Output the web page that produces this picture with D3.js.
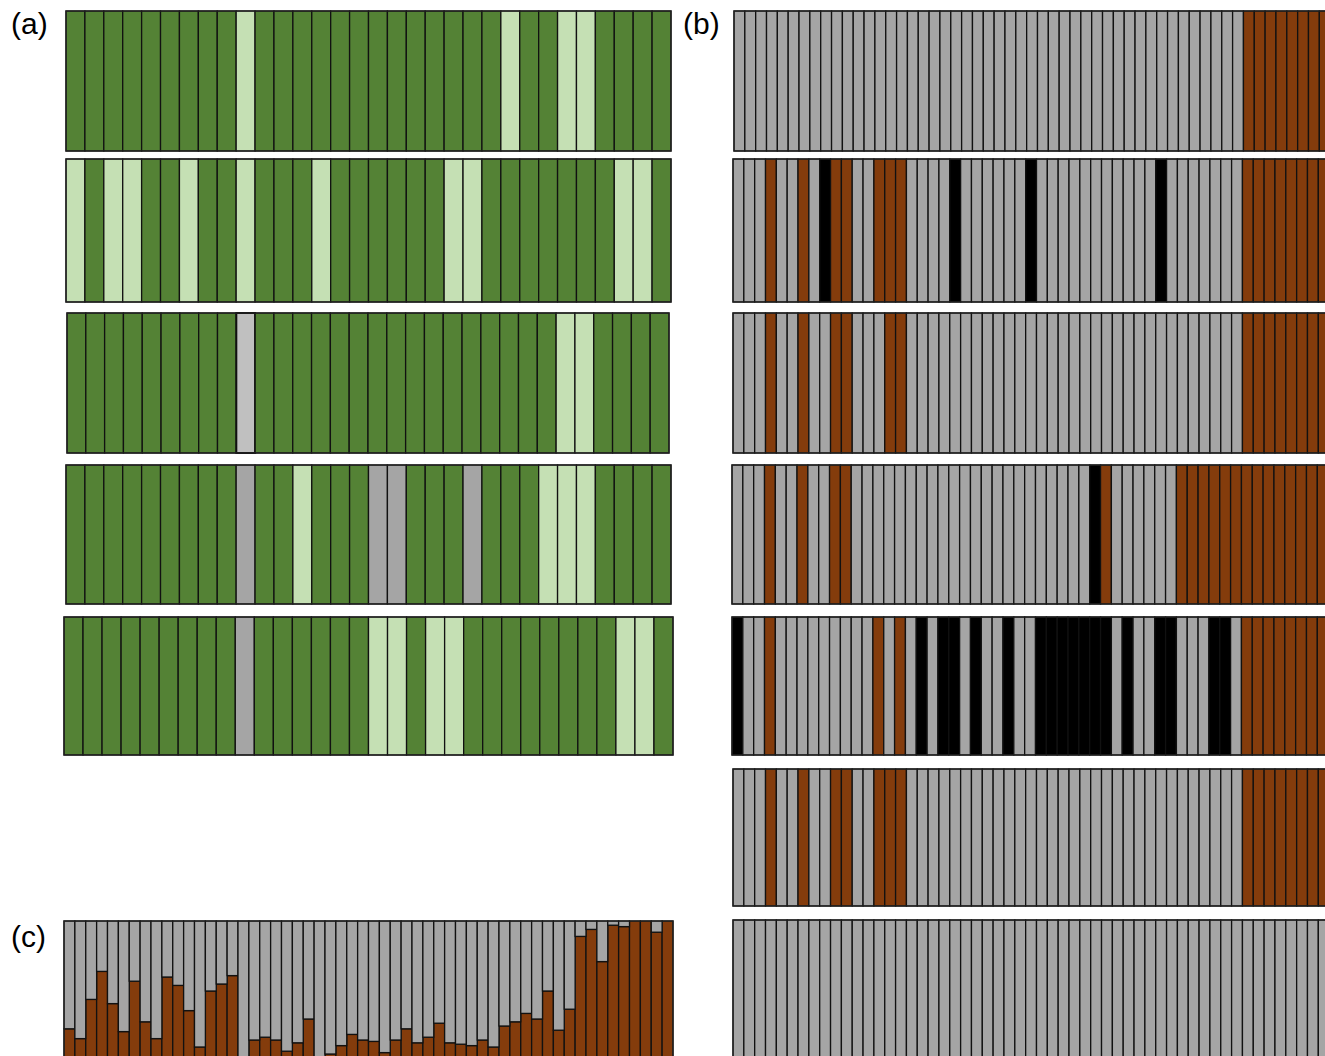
<!DOCTYPE html>
<html>
<head>
<meta charset="utf-8">
<script src="https://cdn.jsdelivr.net/npm/d3@7"></script>
<style>
  html, body { margin: 0; padding: 0; background: #fff; overflow: hidden; }
  .lbl { font-family: "Liberation Sans", Arial, sans-serif; font-size: 30px; fill: #000; }
</style>
</head>
<body>
<div id="chart"></div>
<script>
////////////////////////////////////////////////////////////////////
////////////////////////////  Data  ////////////////////////////////

// (a) 32 individuals, G = dark green, L = light green, S = grey, P = pale grey
const aRows = [
  "GGGGGGGGGLGGGGGGGGGGGGGLGGLLGGGG",
  "LGLLGGLGGLGGGLGGGGGGLLGGGGGGGLLG",
  "GGGGGGGGGPGGGGGGGGGGGGGGGGLLGGGG",
  "GGGGGGGGGSGGLGGGSSGGGSGGGLLLGGGG",
  "GGGGGGGGGSGGGGGGLLGLLGGGGGGGGLLG"
];

// (b) 56 individuals, A = grey, B = brown, K = black (groups of 8)
const bRows = [
  "AAAAAAAA AAAAAAAA AAAAAAAA AAAAAAAA AAAAAAAA AAAAAAAB BBBBBBBB",
  "AAABAABA KBBAABBB AAAAKAAA AAAKAAAA AAAAAAAK AAAAAAAB BBBBBBBB",
  "AAABAABA ABBAAABB AAAAAAAA AAAAAAAA AAAAAAAA AAAAAAAB BBBBBBBB",
  "AAABAABA ABBAAAAA AAAAAAAA AAAAAAAA AKBAAAAA ABBBBBBB BBBBBBBB",
  "KAABAAAA AAAAABAB AKAKKAKA AKAAKKKK KKKAKAAK KAAAKKAB BBBBBBBB",
  "AAABAABA ABBAABBB AAAAAAAA AAAAAAAA AAAAAAAA AAAAAAAB BBBBBBBB",
  "AAAAAAAA AAAAAAAA AAAAAAAA AAAAAAAA AAAAAAAA AAAAAAAA AAAAAAAA"
];

// (c) brown share per individual (grey = rest)
const cBrown = [
  0.23, 0.16, 0.44, 0.64, 0.41, 0.21, 0.57, 0.28, 0.16, 0.60,
  0.54, 0.36, 0.10, 0.50, 0.55, 0.61, 0.02, 0.15, 0.17, 0.15,
  0.07, 0.13, 0.30, 0.02, 0.05, 0.11, 0.19, 0.15, 0.14, 0.06,
  0.15, 0.23, 0.13, 0.17, 0.27, 0.13, 0.12, 0.11, 0.15, 0.10,
  0.25, 0.28, 0.34, 0.30, 0.50, 0.22, 0.37, 0.89, 0.94, 0.71,
  0.97, 0.96, 1.00, 1.00, 0.92, 1.00
];

const panelLabels = ["(a)", "(b)", "(c)"];

////////////////////////////////////////////////////////////////////
////////////////////////////  Layout  //////////////////////////////

const width = 1325, height = 1056;

const colors = {
  G: "#548235", L: "#c5e0b4", S: "#a5a5a5", P: "#c0c0c0",
  A: "#a5a5a5", B: "#843c0c", K: "#000000"
};

// [x0, x1, y0, y1] per row
const aBoxes = [
  [66, 671, 11, 151],
  [66, 671, 159, 302],
  [67, 669, 313, 453],
  [66, 671, 465, 604],
  [64, 673, 617, 755]
];
const bBoxes = [
  [734, 1341, 11, 151],
  [733, 1340, 159, 302],
  [733, 1340, 313, 453],
  [732, 1339, 465, 604],
  [732, 1339, 617, 755],
  [733, 1340, 769, 906],
  [733, 1340, 920, 1061]
];
const cBox = [64, 673, 921, 1061];

const svg = d3.select("#chart").append("svg")
  .attr("width", width)
  .attr("height", height);

////////////////////////////////////////////////////////////////////
////////////////////////////  Draw  ////////////////////////////////

const drawRow = (codes, box) => {
  const cells = codes.replace(/ /g, "").split("");
  const x = d3.scaleBand().domain(d3.range(cells.length)).range([box[0], box[1]]);
  const g = svg.append("g");
  g.selectAll("rect")
    .data(cells)
    .enter()
    .append("rect")
    .attr("x", (d, i) => x(i))
    .attr("y", box[2])
    .attr("width", x.bandwidth())
    .attr("height", box[3] - box[2])
    .attr("fill", d => colors[d])
    .attr("stroke", "#111")
    .attr("stroke-width", d => d === "P" ? 2 : 1.3);
  g.append("rect")
    .attr("x", box[0]).attr("y", box[2])
    .attr("width", box[1] - box[0]).attr("height", box[3] - box[2])
    .attr("fill", "none")
    .attr("stroke", "#222")
    .attr("stroke-width", 1.3);
};

aRows.forEach((r, i) => drawRow(r, aBoxes[i]));
bRows.forEach((r, i) => drawRow(r, bBoxes[i]));

// (c) stacked proportions
const cData = cBrown.map((v, i) => ({ id: i, brown: v, grey: 1 - v }));
const stack = d3.stack().keys(["brown", "grey"])(cData);
const cx = d3.scaleBand().domain(d3.range(cData.length)).range([cBox[0], cBox[1]]);
const cy = d3.scaleLinear().domain([0, 1]).range([cBox[3], cBox[2]]);
const cColor = { brown: colors.B, grey: colors.A };

svg.append("g")
  .selectAll("g")
  .data(stack)
  .enter()
  .append("g")
  .attr("fill", d => cColor[d.key])
  .selectAll("rect")
  .data(d => d)
  .enter()
  .append("rect")
  .attr("x", d => cx(d.data.id))
  .attr("y", d => cy(d[1]))
  .attr("width", cx.bandwidth())
  .attr("height", d => cy(d[0]) - cy(d[1]))
  .attr("stroke", "#111")
  .attr("stroke-width", 1.3);

svg.append("rect")
  .attr("x", cBox[0]).attr("y", cBox[2])
  .attr("width", cBox[1] - cBox[0]).attr("height", cBox[3] - cBox[2])
  .attr("fill", "none")
  .attr("stroke", "#222")
  .attr("stroke-width", 1.3);

// panel labels
svg.selectAll(".lbl")
  .data(panelLabels)
  .enter()
  .append("text")
  .attr("class", "lbl")
  .attr("x", (d, i) => [11, 683, 11][i])
  .attr("y", (d, i) => [34, 34, 947][i])
  .text(d => d);
</script>
</body>
</html>
